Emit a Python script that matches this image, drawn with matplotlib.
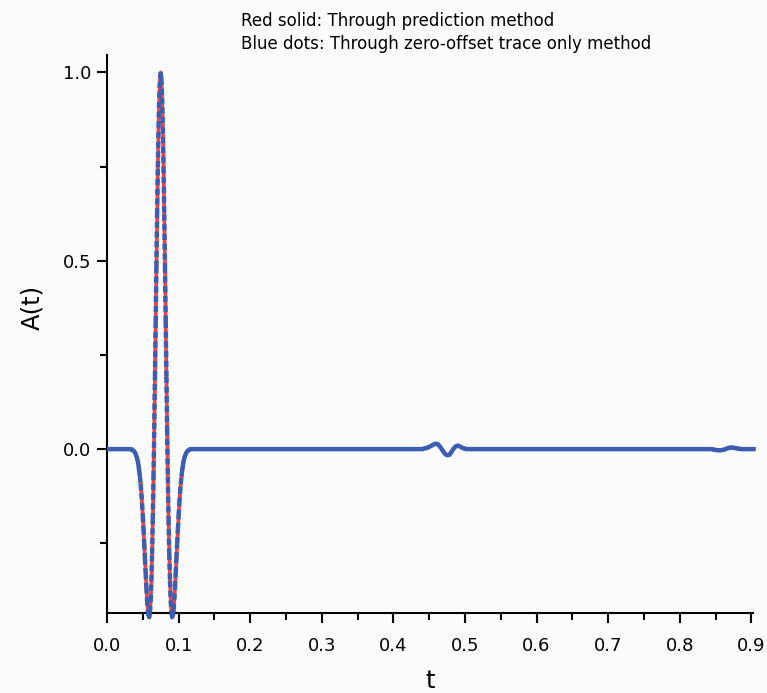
import numpy as np
import matplotlib.pyplot as plt
from matplotlib.collections import LineCollection
from matplotlib.ticker import MultipleLocator, FormatStrFormatter

plt.rcParams['font.family'] = ['DejaVu Sans']
plt.rcParams['lines.scale_dashes'] = False

# trace sampled every 1 ms, t = 0 ... 0.906 s
dt = 0.001
n_samples = 907

# pieces of the trace
lead = [0.0] * 35                      # 0.000 - 0.034
wavelet = [                            # 0.035 - 0.115
    -0.002, -0.003, -0.004, -0.006, -0.009, -0.013, -0.018, -0.024, -0.032, -0.043,
    -0.057, -0.073, -0.093, -0.117, -0.145, -0.177, -0.212, -0.250, -0.290, -0.329,
    -0.367, -0.400, -0.426, -0.443, -0.446, -0.433, -0.402, -0.350, -0.278, -0.186,
    -0.074, 0.053, 0.192, 0.338, 0.484, 0.623, 0.748, 0.854, 0.933, 0.983,
    1.000,
    0.983, 0.933, 0.854, 0.748, 0.623, 0.484, 0.338, 0.192, 0.053, -0.074,
    -0.186, -0.278, -0.350, -0.402, -0.433, -0.446, -0.443, -0.426, -0.400, -0.367,
    -0.329, -0.290, -0.250, -0.212, -0.177, -0.145, -0.117, -0.093, -0.073, -0.057,
    -0.043, -0.032, -0.024, -0.018, -0.013, -0.009, -0.006, -0.004, -0.003, -0.002,
]
gap1 = [0.0] * 324                     # 0.116 - 0.439
wiggle = [                             # 0.440 - 0.502
    0.000, 0.000, 0.001, 0.002, 0.002, 0.003, 0.003, 0.003, 0.004, 0.005,
    0.006, 0.007, 0.008, 0.009, 0.010, 0.011, 0.012, 0.013, 0.014, 0.014,
    0.014, 0.014, 0.013, 0.011, 0.009, 0.007, 0.004, 0.002, -0.001, -0.004,
    -0.007, -0.010, -0.012, -0.014, -0.015, -0.016, -0.016, -0.016, -0.015, -0.013,
    -0.011, -0.008, -0.005, -0.002, 0.001, 0.003, 0.005, 0.007, 0.008, 0.009,
    0.009, 0.009, 0.008, 0.007, 0.006, 0.005, 0.004, 0.003, 0.002, 0.002,
    0.001, 0.001, 0.000,
]
gap2 = [0.0] * 342                     # 0.503 - 0.844
tail = [                               # 0.845 - 0.885
    0.000, -0.001, -0.001, -0.001, -0.002, -0.002, -0.002, -0.003, -0.003, -0.003,
    -0.003, -0.003, -0.003, -0.003, -0.002, -0.002, -0.002, -0.001, -0.001, 0.000,
    0.001, 0.002, 0.002, 0.003, 0.003, 0.004, 0.004, 0.004, 0.004, 0.004,
    0.004, 0.003, 0.003, 0.003, 0.002, 0.002, 0.002, 0.001, 0.001, 0.001,
    0.000,
]
end = [0.0] * 21                       # 0.886 - 0.906

amp = np.array(lead + wavelet + gap1 + wiggle + gap2 + tail + end)
t = np.arange(n_samples) * dt

x_ticks = [0.0, 0.1, 0.2, 0.3, 0.4, 0.5, 0.6, 0.7, 0.8, 0.9]
y_ticks = [0.0, 0.5, 1.0]

red = '#ff3b3b'
blue = '#3a5eb4'
bg = '#fcfcfc'
dash_on, dash_off = 4.5, 2.5   # points

fig = plt.figure(figsize=(7.67, 6.93), dpi=100, facecolor=bg)
ax = fig.add_axes([0.1395, 0.1154, 0.8419, 0.8052], facecolor=bg)
ax.set_xlim(0, 0.902)
ax.set_ylim(-0.435, 1.046)

# red solid underneath
ax.plot(t, amp, color=red, lw=2.6, zorder=2, clip_on=False, solid_capstyle='butt')

# blue dots on top: each segment starts its own dash pattern (Origin style),
# so segments shorter than one dash come out solid
pts = np.column_stack([t, amp])
disp = ax.transData.transform(pts)
seg_len = np.hypot(*np.diff(disp, axis=0).T)
short = seg_len < dash_on * fig.dpi / 72

sx, sy = [], []
for i in range(len(seg_len)):
    if short[i]:
        if i == 0 or not short[i - 1]:
            sx.append(np.nan)
            sy.append(np.nan)
            sx.append(t[i])
            sy.append(amp[i])
        sx.append(t[i + 1])
        sy.append(amp[i + 1])
ax.plot(sx, sy, color=blue, lw=3.2, zorder=3, clip_on=False,
        solid_capstyle='butt', solid_joinstyle='round')

segs = np.stack([pts[:-1], pts[1:]], axis=1)[~short]
lc = LineCollection(segs, colors=blue, linewidths=3.2,
                    linestyles=[(0, (dash_on, dash_off))], capstyle='butt', zorder=3)
lc.set_clip_on(False)
ax.add_collection(lc)

ax.spines['top'].set_visible(False)
ax.spines['right'].set_visible(False)
for s in ['left', 'bottom']:
    ax.spines[s].set_linewidth(1.5)

ax.set_xticks(x_ticks)
ax.set_yticks(y_ticks)
ax.xaxis.set_minor_locator(MultipleLocator(0.05))
ax.yaxis.set_minor_locator(MultipleLocator(0.25))
ax.xaxis.set_major_formatter(FormatStrFormatter('%.1f'))
ax.yaxis.set_major_formatter(FormatStrFormatter('%.1f'))
ax.tick_params(which='major', direction='out', length=7.2, width=1.5, labelsize=13)
ax.tick_params(which='minor', direction='out', length=5, width=1.5)
ax.tick_params(axis='x', which='major', pad=10)
ax.tick_params(axis='y', which='major', pad=4)

ax.set_xlabel('t', fontsize=17.5, labelpad=10)
ax.set_ylabel('A(t)', fontsize=17.5)
ax.yaxis.set_label_coords(-0.097, 0.547)

fig.text(0.314, 1 - 26 / 693, 'Red solid: Through prediction method',
         fontsize=12, va='baseline', ha='left')
fig.text(0.314, 1 - 49 / 693, 'Blue dots: Through zero-offset trace only method',
         fontsize=12, va='baseline', ha='left')

fig.savefig('out.png', dpi=100, facecolor=bg)
